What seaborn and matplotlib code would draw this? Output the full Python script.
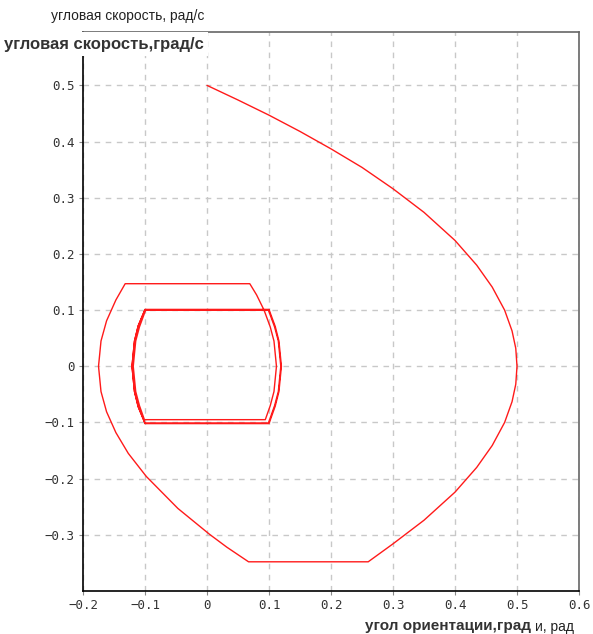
import numpy as np
import pandas as pd
import matplotlib
matplotlib.use("Agg")
import matplotlib.pyplot as plt
import seaborn as sns

# ---- data (phase trajectory) ----
# 1) initial braking parabola from (0, 0.5) through (0.5, 0)
seg1_angle = [0.000, 0.050, 0.100, 0.150, 0.200, 0.250, 0.300, 0.350, 0.400, 0.435, 0.460, 0.480,
              0.492, 0.498, 0.500, 0.498, 0.492, 0.480, 0.460, 0.435, 0.400, 0.350, 0.300, 0.260]
seg1_rate = [0.500, 0.474, 0.447, 0.418, 0.387, 0.354, 0.316, 0.274, 0.224, 0.180, 0.141, 0.100,
             0.063, 0.032, 0.000, -0.032, -0.063, -0.100, -0.141, -0.180, -0.224, -0.274,
             -0.316, -0.348]
# 2) coasting at the negative rate limit, then turn to the left
seg2_angle = [0.067, 0.032, 0.004, -0.047, -0.098, -0.127, -0.147, -0.162, -0.171, -0.175,
              -0.171, -0.162, -0.147, -0.132]
seg2_rate = [-0.348, -0.322, -0.299, -0.253, -0.196, -0.155, -0.118, -0.081, -0.045, 0.000,
             0.045, 0.081, 0.118, 0.147]
# 3) outer loop (coast at +0.147, right arc, coast at -0.095, left arc)
seg3_angle = [0.069, 0.080, 0.092, 0.102, 0.108, 0.112, 0.108, 0.102, 0.094,
              -0.101, -0.109, -0.115, -0.119, -0.115, -0.109, -0.099]
seg3_rate = [0.147, 0.127, 0.100, 0.070, 0.045, 0.000, -0.045, -0.070, -0.095,
             -0.095, -0.070, -0.045, 0.000, 0.045, 0.070, 0.100]
# 4) limit cycle (two passes)
seg4_angle = [0.099, 0.109, 0.115, 0.119, 0.115, 0.109, 0.099,
              -0.100, -0.111, -0.117, -0.121, -0.117, -0.111, -0.100,
              0.100, 0.110, 0.116, 0.120, 0.116, 0.110, 0.100,
              -0.100, -0.111, -0.117, -0.121, -0.117, -0.111, -0.100, 0.100]
seg4_rate = [0.100, 0.070, 0.045, 0.000, -0.045, -0.070, -0.101,
             -0.101, -0.072, -0.045, 0.000, 0.045, 0.072, 0.101,
             0.101, 0.071, 0.045, 0.000, -0.045, -0.071, -0.102,
             -0.102, -0.072, -0.045, 0.000, 0.045, 0.072, 0.101, 0.101]

x_ticks = [-0.2, -0.1, 0.0, 0.1, 0.2, 0.3, 0.4, 0.5, 0.6]
x_tick_labels = ["\u22120.2", "\u22120.1", "0", "0.1", "0.2", "0.3", "0.4", "0.5", "0.6"]
y_ticks = [-0.3, -0.2, -0.1, 0.0, 0.1, 0.2, 0.3, 0.4, 0.5]
y_tick_labels = ["\u22120.3", "\u22120.2", "\u22120.1", "0", "0.1", "0.2", "0.3", "0.4", "0.5"]

angle = seg1_angle + seg2_angle + seg3_angle + seg4_angle
rate = seg1_rate + seg2_rate + seg3_rate + seg4_rate
df = pd.DataFrame({"angle": angle, "rate": rate})

sns.set_style("white")
plt.rcParams["font.family"] = ["Liberation Sans", "DejaVu Sans"]

fig = plt.figure(figsize=(5.93, 6.34), dpi=100)
ax = fig.add_axes([0.1400, 0.0678, 0.8364, 0.8817])

sns.lineplot(data=df, x="angle", y="rate", sort=False, estimator=None,
             color="#ff1a1a", linewidth=1.0, ax=ax, zorder=3)

ax.set_xlim(-0.2, 0.6)
ax.set_ylim(-0.4, 0.595)
ax.set_xticks(x_ticks)
ax.set_xticklabels(x_tick_labels)
ax.set_yticks(y_ticks)
ax.set_yticklabels(y_tick_labels)
ax.set_xlabel("")
ax.set_ylabel("")
for lab in ax.get_xticklabels() + ax.get_yticklabels():
    lab.set_family("DejaVu Sans Mono")
    lab.set_fontsize(9)
    lab.set_color("#333333")
ax.tick_params(axis="both", direction="out", length=3, width=0.8, color="#888888", pad=3,
               bottom=True, left=True)
ax.grid(True, color="#c8c8c8", linestyle=(0, (4, 4)), linewidth=1.0)

for side in ["left", "bottom"]:
    ax.spines[side].set_color("black")
    ax.spines[side].set_linewidth(1.2)
for side in ["top", "right"]:
    ax.spines[side].set_color("#666666")
    ax.spines[side].set_linewidth(1.2)
    ax.spines[side].set_visible(True)

# original (small) axis titles
fig.text(204 / 593, 1 - 16 / 634, "угловая скорость, рад/с", ha="right", va="center",
         fontsize=10, color="#222222")
fig.text(535 / 593, 1 - 627 / 634, "и, рад", ha="left", va="center",
         fontsize=10, color="#222222")
# overlaid bold titles
fig.text(204 / 593, 1 - 44 / 634, "угловая скорость,град/с", ha="right", va="center",
         fontsize=12, fontweight="bold", color="#333333", zorder=10,
         bbox=dict(facecolor="white", edgecolor="none", pad=3))
fig.text(531 / 593, 1 - 626 / 634, "угол ориентации,град", ha="right", va="center",
         fontsize=11, fontweight="bold", color="#333333", zorder=10)

fig.savefig("out.png", dpi=100)
